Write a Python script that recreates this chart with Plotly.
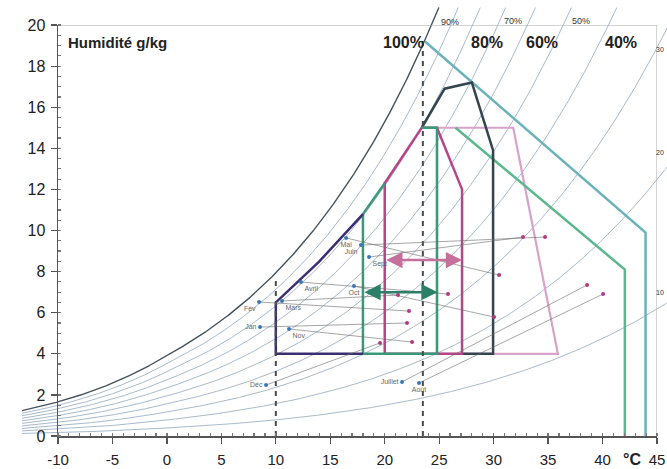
import numpy as np
import plotly.graph_objects as go

# ---------------- data ----------------
months = ["Jan", "Fév", "Mars", "Avril", "Mai", "Juin", "Juillet", "Août", "Sept", "Oct", "Nov", "Déc"]
t_min = [8.55, 8.46, 10.57, 12.31, 16.45, 17.82, 21.59, 23.15, 18.56, 17.18, 11.21, 9.10]
w_min = [5.30, 6.52, 6.57, 7.49, 9.64, 9.29, 2.63, 2.58, 8.71, 7.30, 5.21, 2.48]
t_max = [22.05, 22.23, 21.22, 25.81, 30.50, 34.72, 38.58, 40.05, 32.70, 30.04, 22.51, 19.57]
w_max = [5.50, 6.08, 6.86, 6.91, 7.83, 9.68, 7.35, 6.91, 9.68, 5.79, 4.57, 4.53]
label_pos = ["middle left", "bottom left", "bottom right", "bottom right", "bottom center", "bottom left",
             "middle left", "bottom center", "bottom right", "bottom center", "bottom right", "middle left"]

rh_levels = [10, 20, 30, 40, 50, 60, 70, 80, 90, 100]
pressure_kpa = 97.5

# zones (temperature °C, humidity g/kg)
zone_pink_t = [24.8, 24.8, 31.8, 35.9, 24.8]
zone_pink_w = [4.0, 15.0, 15.0, 4.0, 4.0]
zone_teal_t = [23.7, 43.95, 43.95]
zone_teal_w = [19.2, 9.9, 0.0]
zone_evap_t = [26.5, 42.05, 42.05]
zone_evap_w = [15.0, 8.1, 0.0]
zone_slate_t = [23.4, 25.5, 28.0, 29.95, 29.95, 27.1]
zone_slate_w = [15.0, 16.9, 17.2, 13.9, 4.0, 4.0]
zone_mag_t = [20.0, 20.0, 23.4, 24.8, 27.1, 27.1, 20.0]
zone_mag_w = [4.0, 12.3, 15.0, 15.0, 12.0, 4.0, 4.0]
zone_green_t = [23.4, 24.8, 24.8, 18.0, 18.0, 20.0]
zone_green_w = [15.0, 15.0, 4.0, 4.0, 10.8, 12.3]
zone_navy_t = [18.0, 14.0, 10.0, 10.0, 18.0]
zone_navy_w = [10.8, 8.5, 6.5, 4.0, 4.0]

dash_t = [10.0, 23.5]
dash_top = [7.6, 19.4]

x_ticks = [-10, -5, 0, 5, 10, 15, 20, 25, 30, 35, 40, 45]
y_ticks = [0, 2, 4, 6, 8, 10, 12, 14, 16, 18, 20]

FONT = "Liberation Sans, Arial, Helvetica, sans-serif"


def psat(t):
    t = np.asarray(t, dtype=float)
    return np.where(t >= 0,
                    0.61078 * np.exp(17.27 * t / (t + 237.3)),
                    0.61078 * np.exp(21.875 * t / (t + 265.5)))


def w_of(t, rh):
    pv = rh / 100.0 * psat(t)
    return 622.0 * pv / (pressure_kpa - pv)


fig = go.Figure()

# ---- relative humidity curves (full-figure axes x/y) ----
w_cap = 20.85
tt = np.arange(-13.3, 46.0, 0.05)
for rh in rh_levels:
    ww = w_of(tt, rh)
    mask = ww <= w_cap
    xs = list(tt[mask])
    ys = list(ww[mask])
    if (~mask).any():
        i = np.argmax(~mask)
        t0, t1 = tt[i - 1], tt[i]
        w0, w1 = ww[i - 1], ww[i]
        xs.append(t0 + (w_cap - w0) / (w1 - w0) * (t1 - t0))
        ys.append(w_cap)
    fig.add_trace(go.Scatter(
        x=xs, y=ys, mode="lines",
        line=dict(color="#46525c" if rh == 100 else "#9db2c6", width=1.4 if rh == 100 else 0.9),
        hoverinfo="skip", showlegend=False))


def zone(t, w, color, width):
    fig.add_trace(go.Scatter(x=t, y=w, mode="lines",
                             line=dict(color=color, width=width),
                             hoverinfo="skip", showlegend=False))


zone(zone_pink_t, zone_pink_w, "#d7a3ca", 2.2)
zone(zone_teal_t, zone_teal_w, "#6bb2ba", 2.5)
zone(zone_evap_t, zone_evap_w, "#5cb88c", 2.5)
zone(zone_slate_t, zone_slate_w, "#34454f", 2.5)
zone(zone_mag_t, zone_mag_w, "#b5468a", 2.5)
zone(zone_green_t, zone_green_w, "#3a9a78", 2.5)
zone(zone_navy_t, zone_navy_w, "#3a2f74", 2.5)

# dashed verticals
for t, top in zip(dash_t, dash_top):
    fig.add_trace(go.Scatter(x=[t, t], y=[0, top], mode="lines",
                             line=dict(color="#4a4a4a", width=2, dash="5px,5px"),
                             hoverinfo="skip", showlegend=False))

# monthly connecting lines
cx, cy = [], []
for a, b, c, d in zip(t_min, w_min, t_max, w_max):
    cx += [a, c, None]
    cy += [b, d, None]
fig.add_trace(go.Scatter(x=cx, y=cy, mode="lines", line=dict(color="#6a6a6a", width=0.6),
                         hoverinfo="skip", showlegend=False))

fig.add_trace(go.Scatter(x=t_min, y=w_min, mode="markers+text", text=months,
                         textposition=label_pos,
                         textfont=dict(family=FONT, size=7, color="#666"),
                         marker=dict(color="#3a78b5", size=4),
                         hoverinfo="skip", showlegend=False))
fig.add_trace(go.Scatter(x=t_max, y=w_max, mode="markers",
                         marker=dict(color="#b03a82", size=4),
                         hoverinfo="skip", showlegend=False))

# dummy trace for the visible axes
fig.add_trace(go.Scatter(x=[None], y=[None], xaxis="x2", yaxis="y2", mode="markers",
                         hoverinfo="skip", showlegend=False))

annotations = []


def txt(x, y, s, size, bold=False, xanchor="center", color="#222"):
    annotations.append(dict(x=x, y=y, xref="x", yref="y", text=("<b>%s</b>" % s) if bold else s,
                            showarrow=False, xanchor=xanchor, yanchor="middle",
                            font=dict(family=FONT, size=size, color=color)))


txt(-9.3, 19.17, "Humidité g/kg", 15, True, "left")
txt(21.68, 19.17, "100%", 16, True)
txt(29.39, 19.17, "80%", 16, True)
txt(34.44, 19.17, "60%", 16, True)
txt(41.70, 19.17, "40%", 16, True)
txt(26.0, 20.15, "90%", 9, False, "center", "#333")
txt(31.8, 20.2, "70%", 9, False, "center", "#333")
txt(38.0, 20.2, "50%", 9, False, "center", "#333")
txt(45.82, 18.8, "30", 7, False, "right", "#333")
txt(45.82, 13.8, "20", 7, False, "right", "#333")
txt(45.82, 7.0, "10", 7, False, "right", "#333")
txt(42.7, -1.12, "°C", 16, True)

# double arrows
for (t0, t1, w, col) in [(20.0, 27.1, 8.56, "#c4709b"), (18.0, 24.85, 7.0, "#2c8068")]:
    annotations.append(dict(x=t1, y=w, ax=t0, ay=w, xref="x", yref="y", axref="x", ayref="y",
                            text="", showarrow=True, arrowside="end+start", arrowhead=2,
                            arrowsize=1.3, arrowwidth=2.5, arrowcolor=col,
                            standoff=0, startstandoff=0))

W, H = 667, 469
px_per_t = (657 - 58) / 55.0
px_per_w = (436 - 25) / 20.0
full_x = [-10 - 58 / px_per_t, 45 + (W - 657) / px_per_t]
full_y = [-(H - 436) / px_per_w, 20 + 25 / px_per_w]

fig.update_layout(
    template="none",
    width=W, height=H,
    margin=dict(l=0, r=0, t=0, b=0, autoexpand=False),
    paper_bgcolor="white", plot_bgcolor="rgba(0,0,0,0)",
    showlegend=False,
    annotations=annotations,
    xaxis=dict(domain=[0, 1], range=full_x, visible=False, fixedrange=True, automargin=False),
    yaxis=dict(domain=[0, 1], range=full_y, visible=False, fixedrange=True, automargin=False),
    xaxis2=dict(domain=[58 / W, 657 / W], anchor="y2", range=[-10, 45], automargin=False,
                showline=True, linecolor="#555", linewidth=2,
                ticks="outside", ticklen=6, tickwidth=1.2, tickcolor="#555",
                tickvals=x_ticks, ticktext=[str(v) for v in x_ticks],
                tickfont=dict(family=FONT, size=15, color="#222"),
                minor=dict(dtick=1, ticks="inside", ticklen=3, tickcolor="#777"),
                showgrid=False, zeroline=False, ticklabelstandoff=3, fixedrange=True),
    yaxis2=dict(domain=[(H - 436) / H, (H - 25) / H], anchor="x2", range=[0, 20], automargin=False,
                showline=True, linecolor="#555", linewidth=1.5,
                ticks="outside", ticklen=6, tickwidth=1.2, tickcolor="#555",
                tickvals=y_ticks, ticktext=[str(v) for v in y_ticks],
                tickfont=dict(family=FONT, size=16, color="#222"),
                minor=dict(dtick=0.5, ticks="inside", ticklen=3, tickcolor="#777"),
                showgrid=False, zeroline=False, ticklabelstandoff=2, fixedrange=True),
    shapes=[
        dict(type="line", xref="x2", yref="y2", x0=-10, x1=45, y0=20, y1=20,
             line=dict(color="#a8a8a8", width=1), layer="below"),
        dict(type="line", xref="x2", yref="y2", x0=45, x1=45, y0=0, y1=20,
             line=dict(color="#a8a8a8", width=1), layer="below"),
    ],
)

fig.write_html("out.html", config={"displayModeBar": False, "staticPlot": True},
               post_script="document.body.style.margin='0px';document.body.style.overflow='hidden';")
